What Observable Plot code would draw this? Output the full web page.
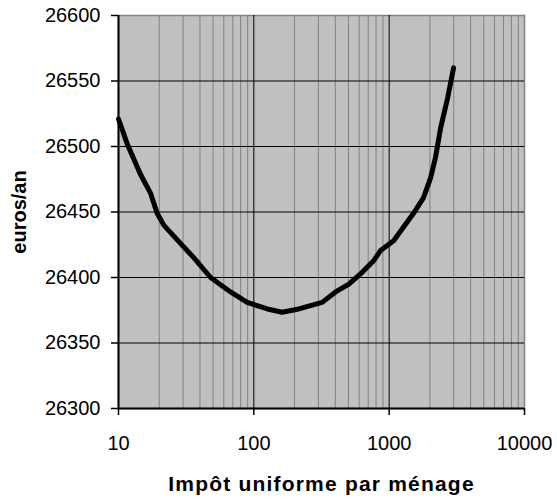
<!DOCTYPE html>
<html>
<head>
<meta charset="utf-8">
<script src="https://cdn.jsdelivr.net/npm/d3@7"></script>
<script src="https://cdn.jsdelivr.net/npm/@observablehq/plot@0.6"></script>
<style>
  html, body { margin: 0; padding: 0; background: #fff; }
</style>
</head>
<body>
<div id="chart"></div>
<script>
const impot = [10, 11.6, 14.5, 17.3, 19.3, 21.6, 28.7, 36.1, 47.9, 67.3, 89.3, 126, 162, 215, 320, 402, 504, 632, 771, 863, 1079, 1514, 1795, 2023, 2203, 2399, 2703, 2992];
const euros = [26521, 26502, 26479, 26464, 26449, 26440, 26426, 26415, 26400, 26389, 26381, 26376, 26373.5, 26376, 26381, 26389, 26395, 26404, 26413, 26420.6, 26428, 26449, 26461, 26476, 26492, 26514, 26537, 26560];
const xTicks = [10, 100, 1000, 10000];
const yTicks = [26300, 26350, 26400, 26450, 26500, 26550, 26600];
const minorX = [];
for (const d of [10, 100, 1000]) for (let k = 2; k <= 9; k++) minorX.push(d * k);
const majorX = [100, 1000];
const gridY = [26350, 26400, 26450, 26500, 26550];
const xTitle = ["Impôt uniforme par ménage"];
const yTitle = ["euros/an"];

const data = impot.map((x, i) => ({x, y: euros[i]}));

const chart = Plot.plot({
  width: 557,
  height: 499,
  marginLeft: 118,
  marginRight: 33,
  marginTop: 15,
  marginBottom: 91,
  style: {fontFamily: "'Liberation Sans', Arial, sans-serif", fontSize: "20px", background: "#fff", color: "#000"},
  x: {type: "log", domain: [10, 10000]},
  y: {domain: [26300, 26600]},
  marks: [
    Plot.frame({fill: "#c0c0c0", stroke: "#808080", strokeWidth: 1.5}),
    Plot.ruleX(minorX, {stroke: "#808080", strokeWidth: 1}),
    Plot.ruleX(majorX, {stroke: "#000", strokeWidth: 1}),
    Plot.ruleY(gridY, {stroke: "#000", strokeWidth: 1}),
    Plot.line(data, {x: "x", y: "y", stroke: "#000", strokeWidth: 5, strokeLinejoin: "round"}),
    Plot.ruleX([10], {stroke: "#000", strokeWidth: 2}),
    Plot.ruleY([26300], {stroke: "#000", strokeWidth: 2}),
    Plot.axisY({ticks: yTicks, tickSize: 7, tickPadding: 11, tickFormat: d => String(d), label: null, strokeWidth: 1.5}),
    Plot.axisX({ticks: xTicks, tickSize: 7, tickPadding: 20, tickFormat: d => String(d), label: null, strokeWidth: 1.5}),
    Plot.text(yTitle, {text: d => d, frameAnchor: "left", textAnchor: "middle", rotate: -90, dx: -99, dy: 0,
      fontWeight: "bold", fontSize: 20, lineAnchor: "middle"}),
    Plot.text(xTitle, {text: d => d, frameAnchor: "bottom", textAnchor: "middle", dy: 76, lineAnchor: "middle",
      fontWeight: "bold", fontSize: 21})
  ]
});
chart.querySelectorAll("text").forEach(t => {
  if (t.textContent === xTitle[0]) t.style.letterSpacing = "1.2px";
});
document.getElementById("chart").appendChild(chart);
</script>
</body>
</html>
